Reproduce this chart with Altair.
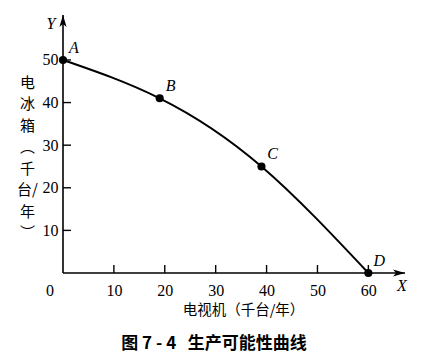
import altair as alt
import pandas as pd

# ---- data ----
tv = [0, 19, 39, 60]            # 电视机 (千台/年)
fridge = [50, 41, 25, 0]        # 电冰箱 (千台/年)
names = ["A", "B", "C", "D"]
x_ticks = [10, 20, 30, 40, 50, 60]
y_ticks = [10, 20, 30, 40, 50]
x_max = 67.2
y_max = 60.55
x_title = "电视机（千台/年）"
y_title = ["电", "冰", "箱", "︵", "千", "台/", "年", "︶"]
caption = "图 7\u00a0-\u00a04\u00a0\u00a0\u00a0生产可能性曲线"

W, H = 342, 258
SERIF = "Liberation Serif"
CJK = "Noto Sans CJK SC"

df = pd.DataFrame({"x": tv, "y": fridge, "name": names})
xt = pd.DataFrame({"t": x_ticks})
yt = pd.DataFrame({"t": y_ticks})
frame = pd.DataFrame({"x0": [0], "x1": [x_max], "y0": [0], "y1": [y_max]})

xs = alt.Scale(domain=[0, x_max], nice=False, zero=False)
ys = alt.Scale(domain=[0, y_max], nice=False, zero=False)

x_axis = alt.Axis(values=x_ticks, domain=False, ticks=False, tickSize=0, grid=False,
                  labelPadding=9, labelFont=SERIF, labelFontSize=16, labelColor="black",
                  title=x_title, titleFont=CJK, titleFontSize=14.5, titleFontWeight="normal",
                  titleColor="black", titleX=180, titleY=37, titleAlign="center",
                  titleBaseline="middle")
y_axis = alt.Axis(values=y_ticks, domain=False, ticks=False, tickSize=0, grid=False,
                  labelPadding=5, labelFont=SERIF, labelFontSize=16, labelColor="black",
                  title=y_title, titleFont=CJK, titleFontSize=15, titleFontWeight="normal",
                  titleColor="black", titleAngle=0, titleX=-36, titleY=60,
                  titleAlign="center", titleBaseline="top", titleLineHeight=21.5)


def X(f):
    return alt.X(f, scale=xs, axis=x_axis)


def Y(f):
    return alt.Y(f, scale=ys, axis=y_axis)


curve = alt.Chart(df).mark_line(interpolate="natural", color="black", strokeWidth=2).encode(
    x=X("x:Q"), y=Y("y:Q"))

x_line = alt.Chart(frame).mark_rule(color="black", strokeWidth=1.6).encode(
    x=X("x0:Q"), x2="x1:Q", y=Y("y0:Q"))
y_line = alt.Chart(frame).mark_rule(color="black", strokeWidth=1.6).encode(
    x=X("x0:Q"), y=Y("y0:Q"), y2="y1:Q")

x_tick_marks = alt.Chart(xt).transform_calculate(z="0").mark_rule(
    color="black", strokeWidth=1.4).encode(
    x=X("t:Q"), y=Y("z:Q"), y2=alt.value(H - 8))
y_tick_marks = alt.Chart(yt).transform_calculate(z="0").mark_rule(
    color="black", strokeWidth=1.4).encode(
    y=Y("t:Q"), x=X("z:Q"), x2=alt.value(8))

arrow_right = "M0,0 L-1,-0.3 L-0.75,0 L-1,0.3 Z"
arrow_up = "M0,0 L-0.3,1 L0,0.75 L0.3,1 Z"
x_arrow = alt.Chart(frame).mark_point(shape=arrow_right, filled=True, size=576,
                                      color="black", opacity=1).encode(
    x=X("x1:Q"), y=Y("y0:Q"))
y_arrow = alt.Chart(frame).mark_point(shape=arrow_up, filled=True, size=576,
                                      color="black", opacity=1).encode(
    x=X("x0:Q"), y=Y("y1:Q"))

dots = alt.Chart(df).mark_circle(size=66, color="black", opacity=1).encode(
    x=X("x:Q"), y=Y("y:Q"))
labels = alt.Chart(df).mark_text(font=SERIF, fontStyle="italic", fontSize=16,
                                 dx=11, dy=-12, color="black").encode(
    x=X("x:Q"), y=Y("y:Q"), text="name:N")

zero_lbl = alt.Chart(frame).mark_text(font=SERIF, fontSize=16, dx=-13, dy=18,
                                      color="black").encode(
    x=X("x0:Q"), y=Y("y0:Q"), text=alt.value("0"))
x_lbl = alt.Chart(frame).mark_text(font=SERIF, fontStyle="italic", fontSize=16,
                                   dx=-3, dy=13, color="black").encode(
    x=X("x1:Q"), y=Y("y0:Q"), text=alt.value("X"))
y_lbl = alt.Chart(frame).mark_text(font=SERIF, fontStyle="italic", fontSize=16,
                                   dx=-12, dy=9, color="black").encode(
    x=X("x0:Q"), y=Y("y1:Q"), text=alt.value("Y"))

chart = alt.layer(
    curve, x_line, y_line, x_tick_marks, y_tick_marks, x_arrow, y_arrow,
    dots, labels, zero_lbl, x_lbl, y_lbl
).properties(
    width=W, height=H,
    autosize=alt.AutoSizeParams(type="none"),
    padding={"left": 63, "top": 15, "right": 18, "bottom": 88},
    background="white",
    title=alt.TitleParams(caption, orient="bottom", anchor="middle", font=CJK,
                          fontSize=17, fontWeight="bold", color="black",
                          offset=19, dx=-20),
).configure_view(stroke=None)

chart.save("out.html", embed_options={"renderer": "svg", "actions": False})
